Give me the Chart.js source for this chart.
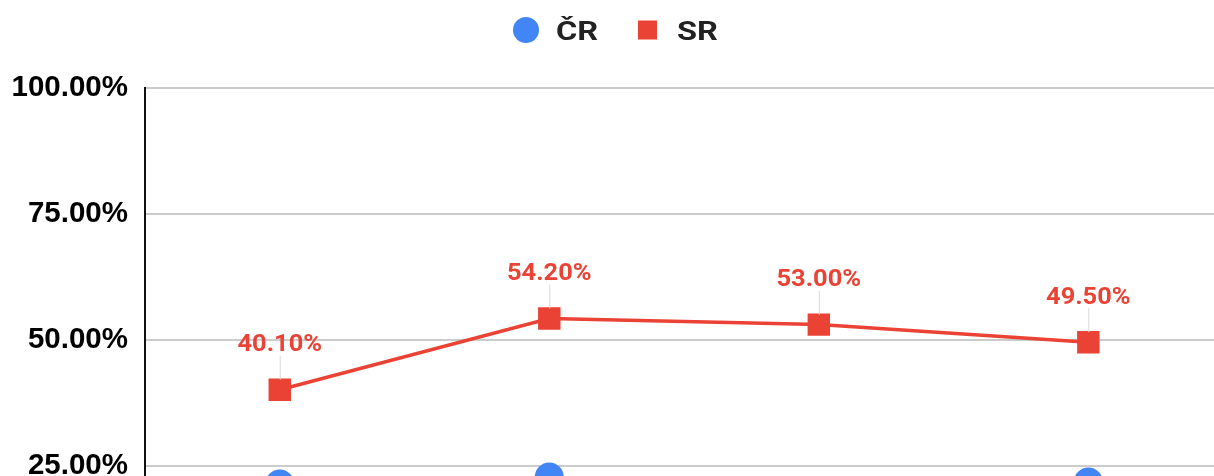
<!DOCTYPE html>
<html><head><meta charset="utf-8">
<script src="https://cdn.jsdelivr.net/npm/chart.js@4"></script>
<style>
html,body{margin:0;padding:0;background:#fff;overflow:hidden;width:1214px;height:476px}
#wrap{width:1240px;height:642px;position:absolute;left:0;top:0}
</style></head>
<body><div id="wrap"><canvas id="c" width="1240" height="642"></canvas></div>
<script>
const categories = ['2018', '2019', '2020', '2021'];
const seriesNames = ['ČR', 'SR'];
const crValues = [21.4, 22.8, 20.0, 21.8];
const srValues = [40.1, 54.2, 53.0, 49.5];
const yMin = 0, yMax = 100, yStep = 25;

const BLUE = '#4285f4', RED = '#ea4335';

const legendPlugin = {
  id: 'customLegend',
  afterDraw(chart) {
    const ctx = chart.ctx;
    ctx.save();
    const cy = 30;
    ctx.fillStyle = BLUE;
    ctx.beginPath(); ctx.arc(526, cy, 13, 0, Math.PI * 2); ctx.fill();
    ctx.fillStyle = RED;
    ctx.fillRect(638, cy - 9.5, 19, 19);
    ctx.fillStyle = '#222';
    ctx.font = 'bold 25px Roboto, "Liberation Sans", Arial, sans-serif';
    ctx.textBaseline = 'alphabetic';
    const drawT = (t, x) => { ctx.save(); ctx.translate(x, 40); ctx.scale(1.3, 1); ctx.fillText(t, 0, 0); ctx.restore(); };
    drawT(seriesNames[0], 556);
    drawT(seriesNames[1], 677);
    ctx.restore();
  }
};

const labelPlugin = {
  id: 'srLabels',
  afterDatasetsDraw(chart) {
    const ctx = chart.ctx;
    const meta = chart.getDatasetMeta(1);
    ctx.save();
    meta.data.forEach((pt, i) => {
      const x = pt.x, y = pt.y;
      ctx.strokeStyle = '#d9d9d9';
      ctx.lineWidth = 1;
      ctx.beginPath(); ctx.moveTo(x + 0.5, y - 34); ctx.lineTo(x + 0.5, y - 10); ctx.stroke();
      ctx.save();
      ctx.translate(x, y - 38.5);
      ctx.scale(1.06, 1);
      ctx.font = 'bold 24px Roboto, "Liberation Sans", sans-serif';
      ctx.textAlign = 'center';
      ctx.textBaseline = 'alphabetic';
      ctx.fillStyle = RED;
      ctx.fillText(srValues[i].toFixed(2) + '%', 0, 0);
      ctx.restore();
    });
    ctx.restore();
  }
};

new Chart(document.getElementById('c'), {
  type: 'line',
  data: {
    labels: categories,
    datasets: [
      { label: seriesNames[0], data: crValues, borderColor: BLUE, backgroundColor: BLUE,
        borderWidth: 3, pointStyle: 'circle', pointRadius: 13, pointHoverRadius: 13, tension: 0 },
      { label: seriesNames[1], data: srValues, borderColor: RED, backgroundColor: RED,
        borderWidth: 3.5, pointStyle: 'rect', pointRadius: 13.4, pointHoverRadius: 13.4, tension: 0 }
    ]
  },
  options: {
    responsive: false,
    animation: false,
    devicePixelRatio: 1,
    layout: { padding: { top: 87.5, left: 0, right: 15, bottom: 0 } },
    plugins: { legend: { display: false }, tooltip: { enabled: false } },
    scales: {
      x: {
        offset: true,
        grid: { display: false, drawTicks: false },
        border: { color: '#222', width: 2 },
        ticks: { color: '#000', font: { family: '"Liberation Sans", Arial', size: 24, weight: 'bold' }, padding: 10, maxRotation: 0 },
        afterFit(s) { s.height = 50; s.paddingLeft = 0; s.paddingRight = 0; }
      },
      y: {
        min: yMin, max: yMax,
        ticks: { stepSize: yStep, color: '#000', padding: 17,
          font: { family: '"Liberation Sans", Arial', size: 29.5, weight: 'bold' },
          callback: v => v.toFixed(2) + '%' },
        grid: { color: '#cccccc', lineWidth: 2, drawTicks: false },
        border: { color: '#111', width: 2 },
        afterFit(s) { s.width = 145; }
      }
    }
  },
  plugins: [legendPlugin, labelPlugin]
});
</script>
</body></html>
